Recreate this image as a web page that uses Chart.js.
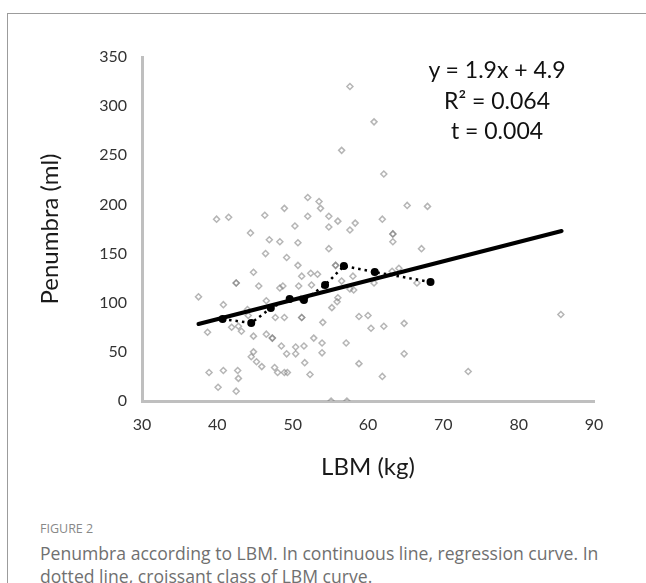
<!DOCTYPE html>
<html>
<head>
<meta charset="utf-8">
<script src="https://cdn.jsdelivr.net/npm/chart.js@4"></script>
<style>
  body { margin: 0; background: #fff; width: 646px; height: 583px; overflow: hidden; position: relative; }
  .frame { position: absolute; left: 7px; top: 13px; width: 700px; height: 700px; border-top: 1px solid #9c9c9c; border-left: 1px solid #9c9c9c; }
  #wrap { position: absolute; left: 0; top: 0; width: 646px; height: 500px; }
  .eq { position: absolute; left: 397px; width: 200px; text-align: center; font-family: Lato, "Open Sans", sans-serif; font-size: 23px; color: #111; line-height: 30.5px; top: 54px; }
  .figlabel { position: absolute; left: 40px; top: 520px; font-family: "Open Sans", sans-serif; font-size: 12.5px; color: #888; }
  .caption { position: absolute; left: 40px; top: 542px; font-family: "Open Sans", sans-serif; font-size: 17.6px; color: #707070; line-height: 23px; white-space: nowrap; }
</style>
</head>
<body>
<div class="frame"></div>
<div id="wrap"><canvas id="c" width="646" height="500"></canvas></div>
<div class="eq">y = 1.9x + 4.9<br>R² = 0.064<br>t = 0.004</div>
<div class="figlabel">FIGURE 2</div>
<div class="caption">Penumbra according to LBM. In continuous line, regression curve. In<br>dotted line, croissant class of LBM curve.</div>
<script>
// individual patients: LBM (kg) and penumbra (ml)
const lbm = [57.6, 56.5, 60.8, 62.1, 52.0, 53.5, 53.7, 48.9, 46.3, 41.5, 39.9, 52.0, 54.8, 56.0, 65.2, 67.9,
  61.9, 58.3, 57.6, 54.8, 50.3, 44.4, 46.9, 48.3, 50.7, 54.8, 46.4, 49.2, 50.7, 55.7, 55.7, 63.3, 63.3, 63.3,
  67.1, 44.8, 52.4, 53.3, 51.2, 56.5, 58.0, 42.5, 42.5, 45.5, 48.7, 50.8, 48.3, 52.5, 57.6, 58.1, 60.8, 63.2,
  64.1, 66.5, 37.5, 56.0, 55.9, 55.2, 46.5, 40.8, 44.0, 51.1, 47.7, 48.9, 51.2, 51.2, 54.0, 44.1, 41.9, 38.7,
  42.8, 43.2, 44.8, 46.5, 47.3, 47.3, 48.5, 50.4, 51.5, 52.8, 53.9, 53.9, 57.1, 58.8, 60.0, 60.4, 62.1, 64.8,
  50.4, 49.2, 44.5, 44.8, 45.2, 45.9, 47.6, 48.0, 48.9, 49.3, 51.6, 52.3, 38.9, 40.8, 42.7, 42.8, 40.1, 42.5,
  58.8, 55.1, 57.2, 85.6, 64.8, 61.9, 73.3];
const penumbra = [320, 255, 284, 231, 207, 203, 196, 196, 189, 187, 185, 188, 188, 183, 199, 198,
  185, 181, 174, 177, 178, 171, 164, 162, 161, 155, 150, 146, 138, 138, 138, 170, 170, 162,
  155, 131, 130, 129, 127, 122, 127, 120, 120, 117, 117, 117, 115, 118, 114, 113, 120, 132,
  135, 120, 106, 105, 101, 95, 102, 98, 93, 104, 85, 85, 85, 85, 80, 87, 75, 70,
  76, 71, 66, 68, 64, 64, 56, 55, 56, 64, 59, 49, 59, 86, 87, 74, 76, 79,
  48, 48, 45, 50, 40, 35, 34, 29, 29, 29, 39, 27, 29, 31, 31, 23, 14, 10,
  38, 0, 0, 88, 48, 25, 30];

// regression line ends
const regX = [37.5, 85.7];
const regY = [78.3, 173];

// croissant class of LBM curve
const classX = [40.7, 44.5, 47.1, 49.6, 51.5, 54.3, 56.8, 60.9, 68.3];
const classY = [83.4, 79.3, 94.6, 103.8, 102.7, 118, 137.3, 131.2, 121.1];

const xTicks = [30, 40, 50, 60, 70, 80, 90];
const yTicks = [0, 50, 100, 150, 200, 250, 300, 350];

const pts = (xs, ys) => xs.map((x, i) => ({ x: x, y: ys[i] }));

const tickFont = { family: "Lato, 'Open Sans', sans-serif", size: 16 };
const titleFont = { family: "Lato, 'Open Sans', sans-serif", size: 24 };

new Chart(document.getElementById("c"), {
  type: "scatter",
  data: {
    datasets: [
      {
        label: "class",
        type: "line",
        data: pts(classX, classY),
        borderColor: "#000",
        borderWidth: 2.5,
        borderDash: [2.5, 4],
        pointRadius: 4,
        pointBackgroundColor: "#000",
        pointBorderWidth: 0,
        showLine: true,
        fill: false,
        order: 0
      },
      {
        label: "regression",
        type: "line",
        data: pts(regX, regY),
        borderColor: "#000",
        borderWidth: 4,
        borderCapStyle: "round",
        pointRadius: 0,
        showLine: true,
        fill: false,
        order: 1
      },
      {
        label: "patients",
        data: pts(lbm, penumbra),
        pointStyle: "rectRot",
        pointRadius: 3,
        pointBorderWidth: 1.5,
        pointBorderColor: "rgba(120,120,120,0.55)",
        pointBackgroundColor: "rgba(255,255,255,0)",
        order: 2
      }
    ]
  },
  options: {
    responsive: false,
    animation: false,
    devicePixelRatio: 1,
    layout: { padding: { left: 0, top: 57, right: 52, bottom: 0 } },
    plugins: { legend: { display: false }, tooltip: { enabled: false } },
    scales: {
      x: {
        type: "linear",
        min: 30,
        max: 90,
        afterBuildTicks: (s) => { s.ticks = xTicks.map(v => ({ value: v })); },
        afterFit: (s) => { s.height = 99; },
        grid: { display: false, drawTicks: false },
        border: { display: true, color: "#bfbfbf", width: 3 },
        ticks: { font: tickFont, color: "#333", padding: 14, maxRotation: 0 },
        title: { display: true, text: "LBM (kg)", font: titleFont, color: "#1a1a1a", padding: { top: 0, bottom: 18 } }
      },
      y: {
        type: "linear",
        min: 0,
        max: 350,
        afterBuildTicks: (s) => { s.ticks = yTicks.map(v => ({ value: v })); },
        afterFit: (s) => { s.width = 142; },
        grid: { display: false, drawTicks: false },
        border: { display: true, color: "#bfbfbf", width: 3 },
        ticks: { font: tickFont, color: "#333", padding: 15 },
        title: { display: true, text: "Penumbra (ml)", font: titleFont, color: "#1a1a1a", padding: { top: 36, bottom: 0 } }
      }
    }
  }
});
</script>
</body>
</html>
